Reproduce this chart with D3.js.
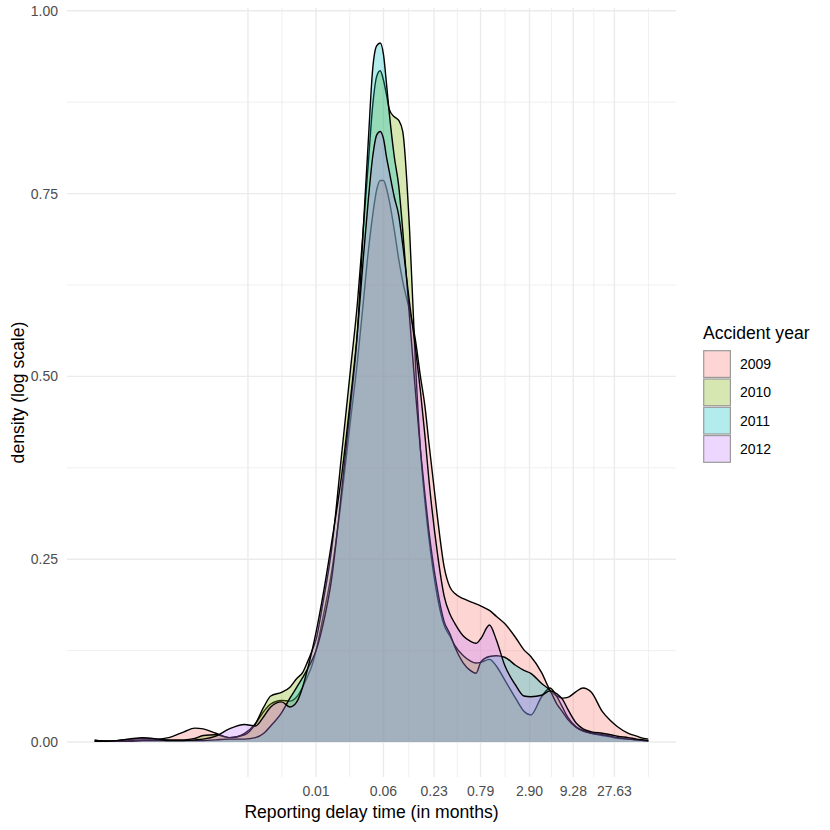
<!DOCTYPE html>
<html>
<head>
<meta charset="utf-8">
<script src="https://cdn.jsdelivr.net/npm/d3@7"></script>
<style>
  body { margin: 0; background: #fff; }
  text { font-family: "Liberation Sans", Arial, Helvetica, sans-serif; }
</style>
</head>
<body>
<div class="drawingArea"></div>
<script>
//Reporting delay grid (months, log axis)
var delayMonths = [
    0.000028, 0.00004, 0.00005, 0.00007, 0.0001, 0.00015, 0.0002, 0.0003, 0.0004, 0.0005,
    0.0007, 0.001, 0.0015, 0.002, 0.0025, 0.003, 0.004, 0.005, 0.006, 0.007,
    0.008, 0.009, 0.01, 0.012, 0.015, 0.02, 0.025, 0.03, 0.035, 0.04,
    0.045, 0.05, 0.055, 0.06, 0.065, 0.07, 0.08, 0.09, 0.1, 0.12,
    0.14, 0.16, 0.18, 0.2, 0.25, 0.3, 0.35, 0.4, 0.5, 0.6,
    0.7, 0.8, 1, 1.2, 1.5, 2, 2.5, 3, 4, 5,
    6, 7, 8, 10, 12, 15, 20, 25, 30, 40,
    50, 60, 68
];

//Density per accident year
var density2009 = [
    0.002, 0.001, 0.002, 0.004, 0.005, 0.004, 0.006, 0.014, 0.019, 0.018,
    0.012, 0.006, 0.012, 0.025, 0.042, 0.052, 0.057, 0.056, 0.062, 0.075,
    0.09, 0.105, 0.125, 0.17, 0.23, 0.34, 0.44, 0.52, 0.6, 0.67,
    0.72, 0.755, 0.768, 0.768, 0.757, 0.74, 0.7, 0.66, 0.63, 0.59,
    0.55, 0.5, 0.46, 0.41, 0.31, 0.24, 0.212, 0.203, 0.196, 0.192,
    0.189, 0.186, 0.18, 0.172, 0.162, 0.143, 0.126, 0.117, 0.095, 0.071,
    0.063, 0.06, 0.061, 0.069, 0.074, 0.068, 0.042, 0.029, 0.021, 0.012,
    0.008, 0.005, 0.004
];
var density2010 = [
    0.003, 0.001, 0.001, 0.002, 0.003, 0.003, 0.003, 0.003, 0.005, 0.009,
    0.01, 0.006, 0.01, 0.025, 0.048, 0.063, 0.068, 0.075, 0.087, 0.095,
    0.11, 0.125, 0.14, 0.19, 0.26, 0.4, 0.51, 0.6, 0.7, 0.79,
    0.87, 0.91, 0.918, 0.905, 0.885, 0.865, 0.855, 0.85, 0.835, 0.7,
    0.52, 0.4, 0.33, 0.28, 0.2, 0.16, 0.145, 0.132, 0.118, 0.111,
    0.108, 0.109, 0.113, 0.104, 0.085, 0.06, 0.042, 0.037, 0.062, 0.074,
    0.062, 0.047, 0.034, 0.021, 0.016, 0.012, 0.009, 0.007, 0.005, 0.004,
    0.003, 0.002, 0.001
];
var density2011 = [
    0.001, 0.001, 0.001, 0.001, 0.002, 0.002, 0.002, 0.002, 0.002, 0.002,
    0.003, 0.004, 0.004, 0.006, 0.012, 0.022, 0.04, 0.06, 0.075, 0.088,
    0.1, 0.112, 0.125, 0.16, 0.22, 0.35, 0.46, 0.56, 0.7, 0.82,
    0.92, 0.952, 0.956, 0.94, 0.9, 0.86, 0.8, 0.76, 0.7, 0.58,
    0.48, 0.4, 0.34, 0.29, 0.21, 0.165, 0.148, 0.13, 0.108, 0.098,
    0.094, 0.11, 0.117, 0.118, 0.116, 0.105, 0.098, 0.094, 0.08, 0.07,
    0.052, 0.041, 0.031, 0.02, 0.015, 0.012, 0.01, 0.008, 0.006, 0.004,
    0.003, 0.002, 0.002
];
var density2012 = [
    0.001, 0.001, 0.002, 0.004, 0.006, 0.004, 0.002, 0.002, 0.003, 0.004,
    0.008, 0.018, 0.024, 0.022, 0.035, 0.048, 0.055, 0.048, 0.055, 0.075,
    0.1, 0.125, 0.15, 0.2, 0.27, 0.37, 0.47, 0.56, 0.66, 0.74,
    0.8, 0.83, 0.835, 0.825, 0.8, 0.78, 0.745, 0.72, 0.68, 0.6,
    0.54, 0.48, 0.42, 0.36, 0.26, 0.2, 0.175, 0.162, 0.145, 0.138,
    0.135, 0.142, 0.16, 0.14, 0.105, 0.078, 0.063, 0.062, 0.064, 0.07,
    0.066, 0.058, 0.045, 0.026, 0.018, 0.014, 0.012, 0.01, 0.008, 0.006,
    0.004, 0.003, 0.002
];

var years = ["2009", "2010", "2011", "2012"];
var yearColors = ["#F8766D", "#7CAE00", "#00BFC4", "#C77CFF"];
var yearDensities = [density2009, density2010, density2011, density2012];

//Axis breaks
var xMajorValues = [0.00164, 0.01, 0.06, 0.23, 0.79, 2.90, 9.28, 27.63];
var xTickLabels = ["", "0.01", "0.06", "0.23", "0.79", "2.90", "9.28", "27.63"];
var xMinorValues = [0.00405, 0.0245, 0.1175, 0.426, 1.514, 5.19, 16.0, 68.2];
var yMajorValues = [0, 0.25, 0.5, 0.75, 1];
var yTickLabels = ["0.00", "0.25", "0.50", "0.75", "1.00"];
var yMinorValues = [0.125, 0.375, 0.625, 0.875];

var width = 830;
var height = 830;

//Panel
var panelLeft = 67, panelRight = 676, panelTop = 8, panelBottom = 777;

var svg = d3.select(".drawingArea").append("svg:svg")
    .attr("width", width)
    .attr("height", height);

//ggplot style 5% expansion in transformed space
var xExtent = d3.extent(delayMonths);
var logSpan = Math.log(xExtent[1]) - Math.log(xExtent[0]);
var xScale = d3.scaleLog()
    .domain([Math.exp(Math.log(xExtent[0]) - 0.05 * logSpan), Math.exp(Math.log(xExtent[1]) + 0.05 * logSpan)])
    .range([panelLeft, panelRight]);

var yMax = d3.max(yearDensities, function (d) { return d3.max(d); });
var yScale = d3.scaleLinear()
    .domain([-0.05 * yMax, 1.05 * yMax])
    .range([panelBottom, panelTop]);

var grid = svg.append("g");

grid.selectAll("line.yminor")
    .data(yMinorValues)
    .enter()
    .append("line")
    .attr("class", "yminor")
    .attr("x1", panelLeft).attr("x2", panelRight)
    .attr("y1", function (d) { return yScale(d); })
    .attr("y2", function (d) { return yScale(d); })
    .attr("stroke", "#ebebeb").attr("stroke-width", 0.8);

grid.selectAll("line.xminor")
    .data(xMinorValues)
    .enter()
    .append("line")
    .attr("class", "xminor")
    .attr("y1", panelTop).attr("y2", panelBottom)
    .attr("x1", function (d) { return xScale(d); })
    .attr("x2", function (d) { return xScale(d); })
    .attr("stroke", "#ebebeb").attr("stroke-width", 0.8);

grid.selectAll("line.ymajor")
    .data(yMajorValues)
    .enter()
    .append("line")
    .attr("class", "ymajor")
    .attr("x1", panelLeft).attr("x2", panelRight)
    .attr("y1", function (d) { return yScale(d); })
    .attr("y2", function (d) { return yScale(d); })
    .attr("stroke", "#ebebeb").attr("stroke-width", 1.4);

grid.selectAll("line.xmajor")
    .data(xMajorValues)
    .enter()
    .append("line")
    .attr("class", "xmajor")
    .attr("y1", panelTop).attr("y2", panelBottom)
    .attr("x1", function (d) { return xScale(d); })
    .attr("x2", function (d) { return xScale(d); })
    .attr("stroke", "#ebebeb").attr("stroke-width", 1.4);

//Density layers, drawn year by year
var area = d3.area()
    .x(function (d) { return xScale(d[0]); })
    .y0(yScale(0))
    .y1(function (d) { return yScale(d[1]); })
    .curve(d3.curveMonotoneX);

var line = d3.line()
    .x(function (d) { return xScale(d[0]); })
    .y(function (d) { return yScale(d[1]); })
    .curve(d3.curveMonotoneX);

yearDensities.forEach(function (dens, i) {
    var pts = delayMonths.map(function (m, j) { return [m, dens[j]]; });
    var g = svg.append("g").attr("class", "year" + years[i]);
    g.append("path")
        .datum(pts)
        .attr("d", area)
        .attr("fill", yearColors[i])
        .attr("fill-opacity", 0.3);
    g.append("path")
        .datum(pts)
        .attr("d", line)
        .attr("fill", "none")
        .attr("stroke", "#000")
        .attr("stroke-width", 1.4);
});

//Axis labels
svg.selectAll("text.xtick")
    .data(xMajorValues)
    .enter()
    .append("text")
    .attr("class", "xtick")
    .attr("x", function (d) { return xScale(d); })
    .attr("y", 796)
    .attr("text-anchor", "middle")
    .attr("font-size", "14px")
    .attr("fill", "#4d4d4d")
    .text(function (d, i) { return xTickLabels[i]; });

svg.selectAll("text.ytick")
    .data(yMajorValues)
    .enter()
    .append("text")
    .attr("class", "ytick")
    .attr("x", 58)
    .attr("y", function (d) { return yScale(d); })
    .attr("dy", "0.36em")
    .attr("text-anchor", "end")
    .attr("font-size", "14px")
    .attr("fill", "#4d4d4d")
    .text(function (d, i) { return yTickLabels[i]; });

svg.append("text")
    .attr("x", (panelLeft + panelRight) / 2)
    .attr("y", 818)
    .attr("text-anchor", "middle")
    .attr("font-size", "17.6px")
    .attr("fill", "#000")
    .text("Reporting delay time (in months)");

svg.append("text")
    .attr("transform", "translate(24," + ((panelTop + panelBottom) / 2) + ") rotate(-90)")
    .attr("text-anchor", "middle")
    .attr("font-size", "17.6px")
    .attr("fill", "#000")
    .text("density (log scale)");

//Legend
var legend = svg.append("g").attr("transform", "translate(703,0)");
legend.append("text")
    .attr("x", 0)
    .attr("y", 339)
    .attr("font-size", "17.6px")
    .text("Accident year");

var keySize = 28.3;
legend.selectAll("rect")
    .data(years)
    .enter()
    .append("rect")
    .attr("x", 0.7)
    .attr("y", function (d, i) { return 350 + i * keySize + 0.7; })
    .attr("width", keySize - 1.6)
    .attr("height", keySize - 1.6)
    .attr("fill", function (d, i) { return yearColors[i]; })
    .attr("fill-opacity", 0.3)
    .attr("stroke", "#9a9a9a")
    .attr("stroke-width", 1.2);

legend.selectAll("text.key")
    .data(years)
    .enter()
    .append("text")
    .attr("class", "key")
    .attr("x", 37)
    .attr("y", function (d, i) { return 350 + i * keySize + keySize / 2; })
    .attr("dy", "0.36em")
    .attr("font-size", "14px")
    .text(function (d) { return d; });
</script>
</body>
</html>
